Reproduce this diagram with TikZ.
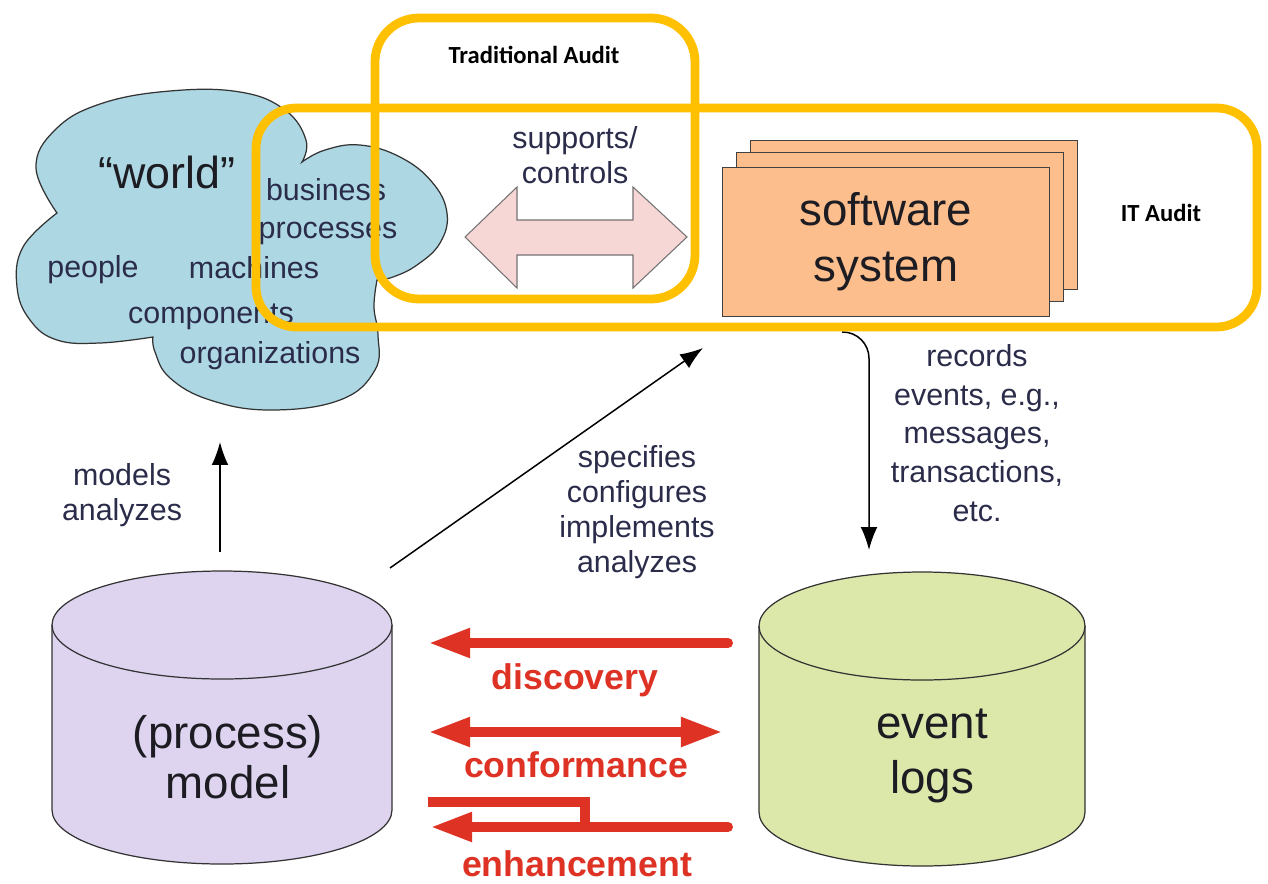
\documentclass[tikz,border=0pt]{standalone}
\usepackage{fontspec}
\setmainfont{Liberation Sans}
\newfontfamily\auditfont{Carlito}
\usetikzlibrary{arrows.meta,positioning}
\definecolor{cloudblue}{RGB}{172,215,227}
\definecolor{swfill}{RGB}{251,190,140}
\definecolor{modelfill}{RGB}{222,212,240}
\definecolor{logfill}{RGB}{220,231,170}
\definecolor{pinkfill}{RGB}{247,214,214}
\definecolor{audit}{RGB}{255,192,0}
\definecolor{minered}{RGB}{222,50,36}
\definecolor{labelnavy}{RGB}{42,44,74}
\definecolor{bigtext}{RGB}{28,28,34}

\begin{document}
\begin{tikzpicture}[x=0.02cm,y=0.02cm,>=latex,
  lbl/.style={text=labelnavy,font=\fontsize{17.3}{19.8}\selectfont,align=center,inner sep=0pt},
  word/.style={lbl,text height=0.75em,text depth=0.2em},
  bigl/.style={text=bigtext,align=center,inner sep=0pt,font=\fontsize{26}{32}\selectfont},
  sheet/.style={draw=black!75,fill=swfill,line width=0.8pt,minimum width=6.54cm,minimum height=2.98cm},
  cyl/.style={draw=black!80,line width=0.7pt},
  flow/.style={draw=black,line width=0.85pt,-{Latex[length=13pt,width=9.5pt]}},
  mine/.style={draw=minered,line width=5.7pt,line cap=round},
  minehead/.style={-{Triangle[length=24pt,width=15.5pt]}},
  minelbl/.style={text=minered,font=\bfseries\fontsize{20.3}{24}\selectfont,inner sep=0pt},
  auditbox/.style={draw=audit,line width=5pt},
  auditlbl/.style={font=\auditfont\bfseries\fontsize{14}{16}\selectfont,inner sep=0pt}]
\useasboundingbox (0,0) rectangle (1268,-883);
\fill[white] (0,0) rectangle (1268,-883);

% the world
\filldraw[draw=black!80,fill=cloudblue,line width=0.7pt]
  plot[smooth,tension=0.7] coordinates {(57,-213) (36,-168) (55,-130) (100,-104) (170,-91) (240,-92) (285,-110) (306,-140) (302,-162)}
  -- plot[smooth,tension=0.7] coordinates {(302,-162) (325,-150) (360,-145) (400,-157) (432,-182) (447,-213) (440,-243) (417,-265) (393,-277) (377,-280)}
  -- plot[smooth,tension=0.7] coordinates {(377,-280) (374,-307) (378,-335) (375,-370) (340,-400) (270,-410) (210,-400) (170,-378) (155,-352) (153,-337)}
  -- plot[smooth,tension=0.7] coordinates {(153,-337) (100,-343) (57,-340) (30,-320) (17,-287) (23,-247) (57,-213)} -- cycle;
\node[word,font=\fontsize{25.5}{28}\selectfont,text=bigtext] (world) at (167,-184) {``world''};
\node[word] (business) at (326,-196) {business};
\node[word] (processes) at (328,-234) {processes};
\node[word] (people) at (93,-273) {people};
\node[word] (machines) at (254,-274) {machines};
\node[word] (components) at (211,-319) {components};
\node[word] (organizations) at (270,-359) {organizations};

% supports / controls
\filldraw[draw=black!55,fill=pinkfill,line width=0.6pt] (465,-237) -- (517,-187) -- (517,-220) -- (633,-220) -- (633,-187)
  -- (687,-237) -- (633,-288) -- (633,-255) -- (517,-255) -- (517,-288) -- cycle;
\node[lbl] (supports) at (575,-155) {supports/\\controls};

% software system
\node[sheet] (swback) at (914,-215) {};
\node[sheet] (swmid) at (900,-227) {};
\node[sheet,bigl] (sw) at (886,-242) {software\\system};

% process model
\filldraw[cyl,fill=modelfill] (52,-625) -- (52,-810) arc[start angle=180,end angle=360,x radius=170,y radius=54]
  -- (392,-625) arc[start angle=0,end angle=180,x radius=170,y radius=54] -- cycle;
\draw[cyl] (52,-625) arc[start angle=180,end angle=360,x radius=170,y radius=54];
\node[bigl,font=\fontsize{26}{28.5}\selectfont] (model) at (228,-757) {(process)\\model};

% event logs
\filldraw[cyl,fill=logfill] (759,-626) -- (759,-812) arc[start angle=180,end angle=360,x radius=163,y radius=54]
  -- (1085,-626) arc[start angle=0,end angle=180,x radius=163,y radius=54] -- cycle;
\draw[cyl] (759,-626) arc[start angle=180,end angle=360,x radius=163,y radius=54];
\node[bigl,font=\fontsize{26}{31}\selectfont] (logs) at (932,-756) {event\\logs};

% black connectors
\coordinate (mtop) at (220,-552);
\coordinate (wbot) at (220,-442);
\draw[flow] (mtop) -- (wbot);
\node[lbl] (models) at (122,-495) {models\\analyzes};
\coordinate (mcorner) at (390,-568);
\coordinate (swin) at (703,-348);
\draw[flow] (mcorner) -- (swin);
\node[lbl] (specifies) at (637,-512) {specifies\\configures\\implements\\analyzes};
\coordinate (recfrom) at (842,-332);
\coordinate (recto) at (869,-550);
\draw[flow,rounded corners=15pt] (recfrom) -| (recto);
\node[lbl,font=\fontsize{17.3}{22}\selectfont] (records) at (977,-433) {records\\events, e.g.,\\messages,\\transactions,\\etc.};

% red connectors
\coordinate (discR) at (728,-643);
\coordinate (discL) at (428,-643);
\draw[mine,minehead] (discR) -- (discL);
\node[minelbl] (discovery) at (575,-680) {discovery};
\coordinate (confL) at (428,-732);
\coordinate (confR) at (723,-732);
\draw[mine,{Triangle[length=24pt,width=15.5pt]}-{Triangle[length=24pt,width=15.5pt]}] (confL) -- (confR);
\node[minelbl] (conformance) at (576,-765) {conformance};
\coordinate (enhtop) at (428,-802);
\coordinate (enhjoin) at (585,-827);
\coordinate (enhR) at (728,-827);
\coordinate (enhL) at (430,-827);
\draw[mine,line cap=butt] (enhtop) -| (enhjoin);
\draw[mine,minehead] (enhR) -- (enhL);
\node[minelbl] (enhancement) at (577,-864) {enhancement};

% audit frames
\draw[auditbox,rounded corners=25pt] (375,-18) rectangle (695,-299);
\draw[auditbox,rounded corners=23pt] (256,-108) rectangle (1257,-327);
\node[auditlbl] (trad) at (534,-55) {Traditional Audit};
\node[auditlbl] (itaudit) at (1161,-213) {IT Audit};
\end{tikzpicture}
\end{document}
